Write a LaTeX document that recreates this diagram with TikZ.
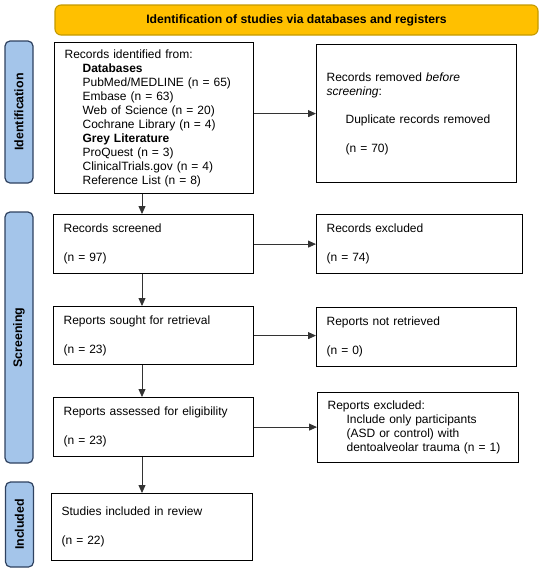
\documentclass[tikz,border=0pt]{standalone}
\usepackage{fontspec}
\setmainfont{Liberation Sans}
\usetikzlibrary{arrows.meta}
\definecolor{bannerfill}{HTML}{FFC000}
\definecolor{bannerline}{HTML}{C49A00}
\definecolor{phasefill}{HTML}{A4C5EA}
\definecolor{phaseline}{HTML}{2F4260}
\definecolor{arrowgray}{HTML}{333333}

\begin{document}
\begin{tikzpicture}[x=1pt,y=-1pt,
  box/.style={draw=black, line width=1.2pt, fill=white, anchor=north west, inner xsep=10pt, inner ysep=0pt, align=left, font=\fontsize{12}{14}\selectfont},
  phase/.style={draw=phaseline, fill=phasefill, line width=1.2pt, rounded corners=5pt, rotate=90, minimum height=28pt, inner sep=0pt, font=\bfseries\fontsize{12.4}{14}\selectfont},
  banner/.style={draw=bannerline, fill=bannerfill, line width=1.1pt, rounded corners=6pt, inner sep=0pt, font=\bfseries\fontsize{12.2}{14}\selectfont},
  arr/.style={draw=arrowgray, line width=0.8pt, -{Triangle[length=8pt,width=7pt]}}]
\useasboundingbox (0,0) rectangle (550,573);

\node[banner, minimum width=483pt, minimum height=30pt] (banner) at (296.5,20) {Identification of studies via databases and registers};

\node[phase, minimum width=142pt] (idphase) at (19,112) {Identification};
\node[phase, minimum width=251pt] (scphase) at (19,337.5) {Screening};
\node[phase, minimum width=85pt] (inphase) at (19.5,524.5) {Included};

\node[box, text width=179pt, minimum height=151pt] (idbox) at (54,42) {Records identified from:\\
\hspace*{18pt}\textbf{Databases}\\
\hspace*{18pt}PubMed/MEDLINE (n = 65)\\
\hspace*{18pt}Embase (n = 63)\\
\hspace*{18pt}Web of Science (n = 20)\\
\hspace*{18pt}Cochrane Library (n = 4)\\
\hspace*{18pt}\textbf{Grey Literature}\\
\hspace*{18pt}ProQuest (n = 3)\\
\hspace*{18pt}ClinicalTrials.gov (n = 4)\\
\hspace*{18pt}Reference List (n = 8)};
\node[box, text width=180pt, minimum height=138pt] (removed) at (316,44) {Records removed \textit{before}\\
\textit{screening}:\\[14pt]
\hspace*{19pt}Duplicate records removed\\[15pt]
\hspace*{19pt}(n = 70)\\[6pt]};

\node[box, text width=180pt, minimum height=59pt] (screened) at (53,214) {Records screened\\[15pt](n = 97)};
\node[box, text width=186pt, minimum height=59pt] (excluded) at (316,214) {Records excluded\\[15pt](n = 74)};

\node[box, text width=180pt, minimum height=58pt] (sought) at (53,306) {Reports sought for retrieval\\[15pt](n = 23)};
\node[box, text width=180pt, minimum height=59pt] (notret) at (316,307) {Reports not retrieved\\[15pt](n = 0)};

\node[box, text width=180pt, minimum height=59pt] (assessed) at (53,397) {Reports assessed for eligibility\\[15pt](n = 23)};
\node[box, text width=181pt, minimum height=70pt] (repexcl) at (317,392) {Reports excluded:\\
\hspace*{19pt}Include only participants\\
\hspace*{19pt}(ASD or control) with\\
\hspace*{19pt}dentoalveolar trauma (n = 1)};

\node[box, text width=181pt, minimum height=67pt] (included) at (51,493) {Studies included in review\\[15pt](n = 22)\\[6pt]};

\coordinate (ax) at (142,0);
\draw[arr] (idbox.south -| ax) -- (screened.north -| ax);
\draw[arr] (screened.south -| ax) -- (sought.north -| ax);
\draw[arr] (sought.south -| ax) -- (assessed.north -| ax);
\draw[arr] (assessed.south -| ax) -- (included.north -| ax);

\draw[arr] (idbox.east |- removed.west) -- (removed.west);
\draw[arr] (screened.east) -- (excluded.west);
\draw[arr] (sought.east) -- (sought.east -| notret.west);
\draw[arr] (assessed.east) -- (assessed.east -| repexcl.west);
\end{tikzpicture}
\end{document}
